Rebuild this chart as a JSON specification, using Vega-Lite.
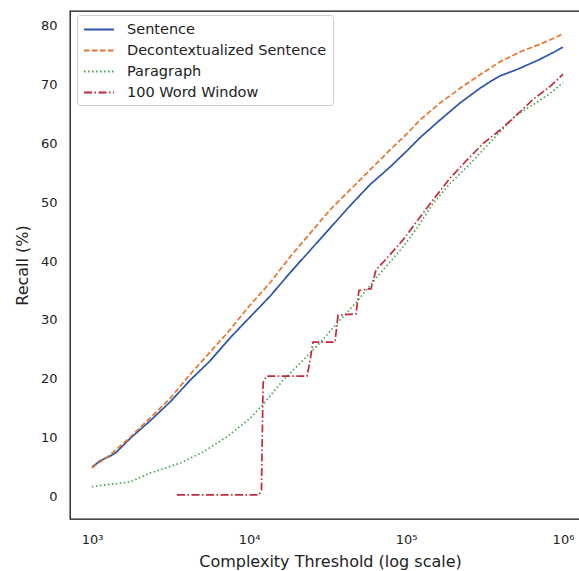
{
  "$schema": "https://vega.github.io/schema/vega-lite/v6.json",
  "autosize": {"type": "none"},
  "padding": {"left": 70, "top": 11, "right": 0, "bottom": 60},
  "width": 520,
  "height": 508,
  "config": {
    "font": "DejaVu Sans",
    "view": {"stroke": "#111111", "strokeWidth": 1.3},
    "axis": {"grid": false, "ticks": false, "domain": false, "labelFontSize": 13, "titleFontSize": 16, "labelColor": "#222222", "titleColor": "#222222", "titleFontWeight": "normal"}
  },
  "data": {"values": [
    {"s": "Sentence", "x": 1000, "y": 4.9},
    {"s": "Sentence", "x": 1124, "y": 6.0},
    {"s": "Sentence", "x": 1302, "y": 6.8},
    {"s": "Sentence", "x": 1422, "y": 7.4},
    {"s": "Sentence", "x": 1746, "y": 9.8},
    {"s": "Sentence", "x": 2342, "y": 12.8},
    {"s": "Sentence", "x": 3140, "y": 16.0},
    {"s": "Sentence", "x": 4209, "y": 19.7},
    {"s": "Sentence", "x": 5644, "y": 23.0},
    {"s": "Sentence", "x": 7568, "y": 26.9},
    {"s": "Sentence", "x": 10000, "y": 30.3},
    {"s": "Sentence", "x": 13608, "y": 34.0},
    {"s": "Sentence", "x": 18245, "y": 38.0},
    {"s": "Sentence", "x": 24465, "y": 41.8},
    {"s": "Sentence", "x": 32806, "y": 45.6},
    {"s": "Sentence", "x": 43993, "y": 49.4},
    {"s": "Sentence", "x": 58970, "y": 53.0},
    {"s": "Sentence", "x": 79100, "y": 56.0},
    {"s": "Sentence", "x": 100000, "y": 58.6},
    {"s": "Sentence", "x": 122800, "y": 61.0},
    {"s": "Sentence", "x": 164700, "y": 64.0},
    {"s": "Sentence", "x": 220800, "y": 66.9},
    {"s": "Sentence", "x": 296000, "y": 69.4},
    {"s": "Sentence", "x": 342800, "y": 70.5},
    {"s": "Sentence", "x": 396900, "y": 71.5},
    {"s": "Sentence", "x": 509300, "y": 72.6},
    {"s": "Sentence", "x": 683100, "y": 74.1},
    {"s": "Sentence", "x": 826400, "y": 75.2},
    {"s": "Sentence", "x": 1000000, "y": 76.4},
    {"s": "Decontextualized Sentence", "x": 1000, "y": 4.8},
    {"s": "Decontextualized Sentence", "x": 1124, "y": 5.8},
    {"s": "Decontextualized Sentence", "x": 1302, "y": 7.0},
    {"s": "Decontextualized Sentence", "x": 1746, "y": 10.0},
    {"s": "Decontextualized Sentence", "x": 2342, "y": 13.3},
    {"s": "Decontextualized Sentence", "x": 3140, "y": 16.6},
    {"s": "Decontextualized Sentence", "x": 4209, "y": 20.7},
    {"s": "Decontextualized Sentence", "x": 5644, "y": 24.5},
    {"s": "Decontextualized Sentence", "x": 7568, "y": 28.3},
    {"s": "Decontextualized Sentence", "x": 10000, "y": 32.3},
    {"s": "Decontextualized Sentence", "x": 13608, "y": 36.3},
    {"s": "Decontextualized Sentence", "x": 18245, "y": 40.7},
    {"s": "Decontextualized Sentence", "x": 24465, "y": 44.7},
    {"s": "Decontextualized Sentence", "x": 32806, "y": 48.7},
    {"s": "Decontextualized Sentence", "x": 43993, "y": 52.1},
    {"s": "Decontextualized Sentence", "x": 58970, "y": 55.5},
    {"s": "Decontextualized Sentence", "x": 79100, "y": 58.9},
    {"s": "Decontextualized Sentence", "x": 100000, "y": 61.5},
    {"s": "Decontextualized Sentence", "x": 122800, "y": 64.0},
    {"s": "Decontextualized Sentence", "x": 164700, "y": 66.9},
    {"s": "Decontextualized Sentence", "x": 220800, "y": 69.4},
    {"s": "Decontextualized Sentence", "x": 296000, "y": 71.7},
    {"s": "Decontextualized Sentence", "x": 396900, "y": 73.9},
    {"s": "Decontextualized Sentence", "x": 532300, "y": 75.6},
    {"s": "Decontextualized Sentence", "x": 713800, "y": 76.9},
    {"s": "Decontextualized Sentence", "x": 889200, "y": 78.0},
    {"s": "Decontextualized Sentence", "x": 1000000, "y": 78.7},
    {"s": "Paragraph", "x": 1000, "y": 1.6},
    {"s": "Paragraph", "x": 1302, "y": 2.0},
    {"s": "Paragraph", "x": 1746, "y": 2.4},
    {"s": "Paragraph", "x": 2342, "y": 3.9},
    {"s": "Paragraph", "x": 3634, "y": 5.6},
    {"s": "Paragraph", "x": 5093, "y": 7.5},
    {"s": "Paragraph", "x": 7243, "y": 10.1},
    {"s": "Paragraph", "x": 10146, "y": 13.2},
    {"s": "Paragraph", "x": 12282, "y": 15.6},
    {"s": "Paragraph", "x": 16469, "y": 19.7},
    {"s": "Paragraph", "x": 22078, "y": 23.1},
    {"s": "Paragraph", "x": 28330, "y": 26.1},
    {"s": "Paragraph", "x": 36350, "y": 29.4},
    {"s": "Paragraph", "x": 48740, "y": 33.1},
    {"s": "Paragraph", "x": 65360, "y": 37.3},
    {"s": "Paragraph", "x": 95700, "y": 42.4},
    {"s": "Paragraph", "x": 117550, "y": 45.6},
    {"s": "Paragraph", "x": 148600, "y": 49.8},
    {"s": "Paragraph", "x": 190700, "y": 53.2},
    {"s": "Paragraph", "x": 244650, "y": 56.0},
    {"s": "Paragraph", "x": 309400, "y": 58.9},
    {"s": "Paragraph", "x": 396900, "y": 62.0},
    {"s": "Paragraph", "x": 509300, "y": 64.9},
    {"s": "Paragraph", "x": 644200, "y": 66.6},
    {"s": "Paragraph", "x": 826400, "y": 68.5},
    {"s": "Paragraph", "x": 1000000, "y": 70.4},
    {"s": "100 Word Window", "x": 3478, "y": 0.2},
    {"s": "100 Word Window", "x": 11580, "y": 0.2},
    {"s": "100 Word Window", "x": 12000, "y": 1.0},
    {"s": "100 Word Window", "x": 12300, "y": 19.3},
    {"s": "100 Word Window", "x": 12900, "y": 20.4},
    {"s": "100 Word Window", "x": 23412, "y": 20.4},
    {"s": "100 Word Window", "x": 24465, "y": 23.0},
    {"s": "100 Word Window", "x": 25567, "y": 26.2},
    {"s": "100 Word Window", "x": 35297, "y": 26.2},
    {"s": "100 Word Window", "x": 36890, "y": 30.8},
    {"s": "100 Word Window", "x": 48030, "y": 31.0},
    {"s": "100 Word Window", "x": 50190, "y": 35.0},
    {"s": "100 Word Window", "x": 59850, "y": 35.3},
    {"s": "100 Word Window", "x": 64410, "y": 38.5},
    {"s": "100 Word Window", "x": 75680, "y": 40.5},
    {"s": "100 Word Window", "x": 95700, "y": 43.6},
    {"s": "100 Word Window", "x": 117550, "y": 46.8},
    {"s": "100 Word Window", "x": 148600, "y": 50.4},
    {"s": "100 Word Window", "x": 190700, "y": 54.1},
    {"s": "100 Word Window", "x": 244650, "y": 57.2},
    {"s": "100 Word Window", "x": 309400, "y": 60.0},
    {"s": "100 Word Window", "x": 396900, "y": 62.3},
    {"s": "100 Word Window", "x": 509300, "y": 64.9},
    {"s": "100 Word Window", "x": 644200, "y": 67.5},
    {"s": "100 Word Window", "x": 826400, "y": 69.7},
    {"s": "100 Word Window", "x": 1000000, "y": 71.8}
  ]},
  "mark": {"type": "line", "strokeWidth": 1.7, "clip": true},
  "encoding": {
    "x": {"field": "x", "type": "quantitative",
      "scale": {"type": "log", "domain": [724, 1486000], "nice": false},
      "axis": {"values": [1000, 10000, 100000, 1000000], "labelPadding": 14, "titlePadding": 7,
        "labelExpr": "datum.value == 1000 ? '10³' : datum.value == 10000 ? '10⁴' : datum.value == 100000 ? '10⁵' : '10⁶'",
        "title": "Complexity Threshold (log scale)"}},
    "y": {"field": "y", "type": "quantitative",
      "scale": {"domain": [-3.9, 82.55], "nice": false, "zero": false},
      "axis": {"values": [0, 10, 20, 30, 40, 50, 60, 70, 80], "labelPadding": 13, "titlePadding": 10, "title": "Recall (%)"}},
    "color": {"field": "s", "type": "nominal",
      "scale": {"domain": ["Sentence", "Decontextualized Sentence", "Paragraph", "100 Word Window"],
        "range": ["#2b55a8", "#e8742e", "#3da94a", "#c22a3a"]},
      "legend": {"title": null, "orient": "none", "legendX": 7, "legendY": 4,
        "symbolType": "M-1,0H3", "symbolSize": 225, "symbolStrokeWidth": 1.8,
        "labelFontSize": 14.5, "labelColor": "#222222", "labelOffset": 27, "labelLimit": 400,
        "rowPadding": 6, "padding": 6, "strokeColor": "#cccccc", "cornerRadius": 3, "fillColor": "white"}},
    "strokeDash": {"field": "s", "type": "nominal",
      "scale": {"domain": ["Sentence", "Decontextualized Sentence", "Paragraph", "100 Word Window"],
        "range": [[1, 0], [5.5, 2.5], [1.5, 2.5], [8, 2.5, 1.5, 2.5]]},
      "legend": {"title": null, "orient": "none", "legendX": 7, "legendY": 4,
        "symbolType": "M-1,0H3", "symbolSize": 225, "symbolStrokeWidth": 1.8,
        "labelFontSize": 14.5, "labelColor": "#222222", "labelOffset": 27, "labelLimit": 400,
        "rowPadding": 6, "padding": 6, "strokeColor": "#cccccc", "cornerRadius": 3, "fillColor": "white"}}
  }
}
